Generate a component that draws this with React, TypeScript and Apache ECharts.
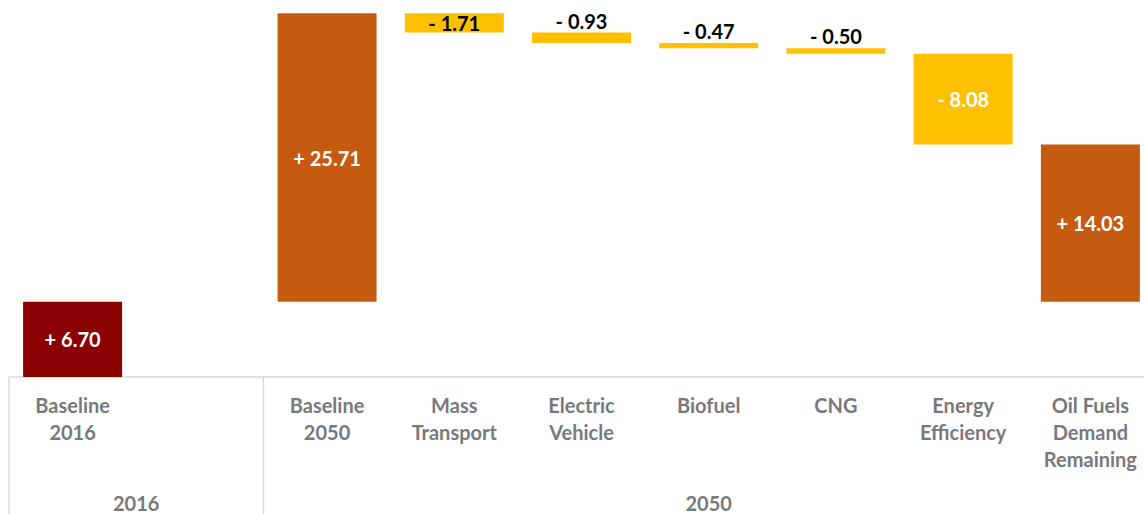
import React, { useEffect, useRef } from "react";
import * as echarts from "echarts";

const categories = [
  "Baseline\n2016",
  "",
  "Baseline\n2050",
  "Mass\nTransport",
  "Electric\nVehicle",
  "Biofuel",
  "CNG",
  "Energy\nEfficiency",
  "Oil Fuels\nDemand\nRemaining",
];
const changes: (number | null)[] = [6.7, null, 25.71, -1.71, -0.93, -0.47, -0.5, -8.08, 14.03];
const steps = ["start", "gap", "up", "down", "down", "down", "down", "down", "remaining"];
const groups = [
  { label: "2016", from: 0, to: 1 },
  { label: "2050", from: 2, to: 8 },
];

const COLORS: Record<string, string> = {
  start: "#8B0000",
  up: "#C55A11",
  remaining: "#C55A11",
  down: "#FFC000",
};
const GRAY = "#78797c";
const FONT = "Lato, 'Open Sans', sans-serif";

function buildBars() {
  const base: (number | null)[] = [];
  const vals: any[] = [];
  let running = 0;
  let startLevel = 0;
  changes.forEach((v, i) => {
    const kind = steps[i];
    if (v == null) {
      base.push(null);
      vals.push(null);
      return;
    }
    let b = 0;
    if (kind === "start") {
      b = 0;
      running = v;
      startLevel = v;
    } else if (kind === "up") {
      b = running;
      running += v;
    } else if (kind === "down") {
      running += v;
      b = running;
    } else {
      b = startLevel;
    }
    const abs = Math.abs(v);
    const inside = abs >= 1.5;
    const white = abs >= 5;
    base.push(b);
    vals.push({
      value: abs,
      raw: v,
      itemStyle: { color: COLORS[kind] },
      label: {
        show: true,
        position: inside ? "inside" : "top",
        distance: 2,
        color: white ? "#ffffff" : "#000000",
      },
    });
  });
  return { base, vals };
}

export default function App() {
  const ref = useRef<HTMLDivElement>(null);
  useEffect(() => {
    if (!ref.current) return;
    const chart = echarts.init(ref.current, undefined, { renderer: "svg" });
    const { base, vals } = buildBars();
    const axisY = 377;
    chart.setOption({
      animation: false,
      grid: { left: 9, right: 16, top: 0, bottom: 514 - axisY },
      xAxis: {
        type: "category",
        data: categories,
        axisLine: { show: true, lineStyle: { color: "#d9d9d9", width: 1.5 } },
        axisTick: { show: false },
        axisLabel: {
          interval: 0,
          color: GRAY,
          fontFamily: FONT,
          fontWeight: "bold",
          fontSize: 20,
          lineHeight: 27,
          margin: 14,
        },
      },
      yAxis: {
        type: "value",
        min: 0,
        max: 33.6,
        show: false,
        splitLine: { show: false },
      },
      series: [
        {
          type: "bar",
          stack: "w",
          data: base,
          itemStyle: { color: "transparent" },
          barWidth: 99,
          silent: true,
        },
        {
          type: "bar",
          stack: "w",
          data: vals,
          barWidth: 99,
          label: {
            show: true,
            fontFamily: FONT,
            fontWeight: "bold",
            fontSize: 20,
            formatter: (p: any) => {
              const r = p.data.raw as number;
              return (r >= 0 ? "+ " : "- ") + Math.abs(r).toFixed(2);
            },
          },
        },
      ],
    });
    const cw =
      (chart.convertToPixel({ xAxisIndex: 0 }, 1) as number) -
      (chart.convertToPixel({ xAxisIndex: 0 }, 0) as number);
    const edge = (i: number) => (chart.convertToPixel({ xAxisIndex: 0 }, i) as number) - cw / 2;
    const graphics: any[] = [];
    groups.forEach((g) => {
      const l = edge(g.from);
      const r = edge(g.to + 1);
      graphics.push({
        type: "line",
        shape: { x1: l, y1: axisY, x2: l, y2: 514 },
        style: { stroke: "#d9d9d9", lineWidth: 1.5 },
      });
      graphics.push({
        type: "text",
        x: (l + r) / 2,
        y: 503,
        style: {
          text: g.label,
          fill: GRAY,
          font: `bold 20px ${FONT}`,
          textAlign: "center",
          textVerticalAlign: "middle",
        },
      });
    });
    chart.setOption({ graphic: graphics });
    return () => chart.dispose();
  }, []);
  return (
    <div style={{ position: "fixed", left: 0, top: 0, width: 1144, height: 514, overflow: "hidden", background: "#fff" }}>
      <div ref={ref} style={{ width: 1170, height: 514 }} />
    </div>
  );
}
